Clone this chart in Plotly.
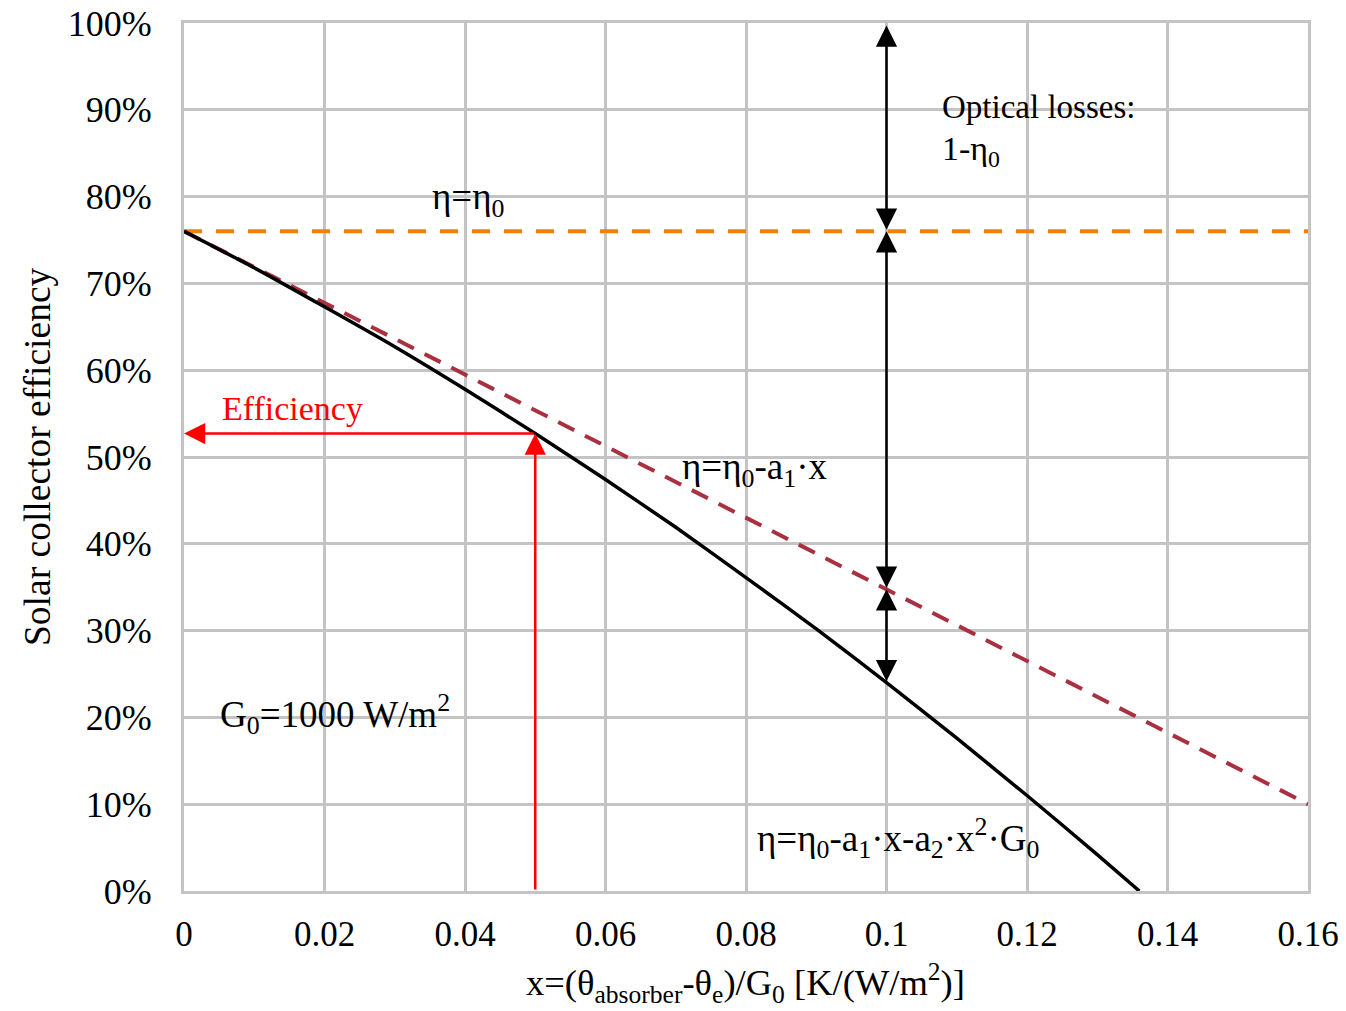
import plotly.graph_objects as go

# ---- data ----
x_curve = [0.00, 0.01, 0.02, 0.03, 0.04, 0.05, 0.06, 0.07, 0.08, 0.09, 0.10, 0.11, 0.12, 0.13, 0.136]
eta_curve = [0.760, 0.718, 0.673, 0.627, 0.578, 0.527, 0.474, 0.419, 0.361, 0.302, 0.240, 0.176, 0.110, 0.042, 0.000]

x_lin = [0.00, 0.04, 0.08, 0.12, 0.16]
eta_lin = [0.760, 0.595, 0.430, 0.265, 0.100]

x_eta0 = [0.00, 0.16]
eta0_line = [0.76, 0.76]

x_ticks = [0, 0.02, 0.04, 0.06, 0.08, 0.1, 0.12, 0.14, 0.16]
x_tick_labels = ["0", "0.02", "0.04", "0.06", "0.08", "0.1", "0.12", "0.14", "0.16"]
y_ticks = [0, 0.1, 0.2, 0.3, 0.4, 0.5, 0.6, 0.7, 0.8, 0.9, 1.0]
y_tick_labels = ["0%", "10%", "20%", "30%", "40%", "50%", "60%", "70%", "80%", "90%", "100%"]

# arrow anchor values
x_arrow = 0.10
eta0 = 0.76
eta_top = 0.997
eta_lin_at_arrow = 0.3475
eta_curve_at_arrow = 0.240
x_op = 0.05
eta_op = 0.527

FONT = "Liberation Serif, Times New Roman, serif"
GRID = "#c4c4c4"

fig = go.Figure()
fig.add_trace(go.Scatter(x=x_eta0, y=eta0_line, mode="lines",
                         line=dict(color="#ef8200", width=4, dash="18px,14px"),
                         showlegend=False, hoverinfo="skip"))
fig.add_trace(go.Scatter(x=x_lin, y=eta_lin, mode="lines",
                         line=dict(color="#a8303f", width=4, dash="18px,12px"),
                         showlegend=False, hoverinfo="skip"))
fig.add_trace(go.Scatter(x=x_curve, y=eta_curve, mode="lines",
                         line=dict(color="black", width=3.5, shape="spline", smoothing=0.6),
                         showlegend=False, hoverinfo="skip"))

ann = []
def arrow(x0, y0, x1, y1, color, both=False):
    d = dict(x=x1, y=y1, ax=x0, ay=y0, xref="x", yref="y", axref="x", ayref="y",
             text="", showarrow=True, arrowhead=2, arrowsize=1.7, arrowwidth=2.5,
             arrowcolor=color, standoff=0, startstandoff=0)
    if both:
        d.update(arrowside="end+start", startarrowhead=2, startarrowsize=1.7)
    ann.append(d)

arrow(x_arrow, eta0, x_arrow, eta_top, "black", both=True)
arrow(x_arrow, eta_lin_at_arrow, x_arrow, eta0, "black", both=True)
arrow(x_arrow, eta_curve_at_arrow, x_arrow, eta_lin_at_arrow, "black", both=True)
arrow(x_op, 0.0, x_op, eta_op, "red")
arrow(x_op, eta_op, 0.0, eta_op, "red")

def label(x, y, text, color="black", size=33):
    ann.append(dict(x=x, y=y, xref="x", yref="y", text=text, showarrow=False,
                    xanchor="left", yanchor="middle",
                    font=dict(family=FONT, size=size, color=color)))

label(0.1076, 0.903, "Optical losses:", size=33)
label(0.1076, 0.853, "1-η<sub>0</sub>", size=34)
label(0.0350, 0.797, "η=η<sub>0</sub>", size=37)
label(0.0051, 0.556, "Efficiency", color="red", size=34)
label(0.0706, 0.486, "η=η<sub>0</sub>-a<sub>1</sub>·x", size=37)
label(0.0048, 0.204, "G<sub>0</sub>=1000 W/m<sup>2</sup>", size=37)
label(0.0813, 0.061, "η=η<sub>0</sub>-a<sub>1</sub>·x-a<sub>2</sub>·x<sup>2</sup>·G<sub>0</sub>", size=37)

# axis titles (paper coords are relative to the plot area: 184..1308 x 23..891 px)
ann.append(dict(x=(745 - 184) / 1124, y=(891 - 983) / 868, xref="paper", yref="paper",
                text="x=(θ<sub>absorber</sub>-θ<sub>e</sub>)/G<sub>0</sub> [K/(W/m<sup>2</sup>)]",
                showarrow=False, xanchor="center", yanchor="middle",
                font=dict(family=FONT, size=36.5, color="black")))
ann.append(dict(x=(37 - 184) / 1124, y=(891 - 457) / 868, xref="paper", yref="paper",
                text="Solar collector efficiency", textangle=-90,
                showarrow=False, xanchor="center", yanchor="middle",
                font=dict(family=FONT, size=37.5, color="black")))

fig.update_layout(
    width=1346, height=1011,
    margin=dict(l=184, r=38, t=23, b=120, autoexpand=False),
    paper_bgcolor="white", plot_bgcolor="white",
    annotations=ann,
    font=dict(family=FONT, size=35, color="black"),
)
fig.update_xaxes(range=[0, 0.16], tickvals=x_ticks, ticktext=x_tick_labels,
                 automargin=False,
                 showgrid=True, gridcolor=GRID, gridwidth=3, zeroline=False,
                 showline=True, linecolor=GRID, linewidth=3, mirror=True,
                 ticks="", ticklabelstandoff=10,
                 tickfont=dict(family=FONT, size=35, color="black"))
fig.update_yaxes(range=[0, 1], tickvals=y_ticks, ticktext=y_tick_labels,
                 automargin=False,
                 showgrid=True, gridcolor=GRID, gridwidth=3, zeroline=False,
                 showline=True, linecolor=GRID, linewidth=3, mirror=True,
                 ticks="", ticklabelstandoff=22,
                 tickfont=dict(family=FONT, size=36, color="black"))

fig.write_html("out.html")
